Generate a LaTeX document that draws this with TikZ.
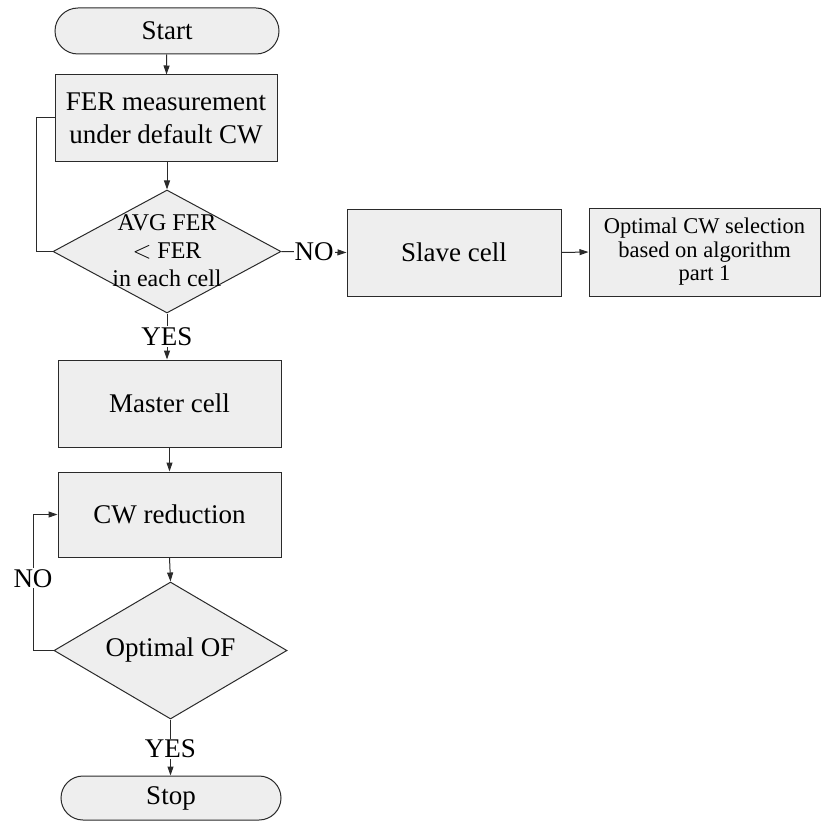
\documentclass[tikz,border=0pt]{standalone}
\usepackage{fontspec}
\setmainfont{Liberation Serif}
\usetikzlibrary{shapes.geometric,shapes.misc,arrows.meta}
\definecolor{boxfill}{HTML}{EEEEEE}
\definecolor{edge}{HTML}{2A2A2A}
\tikzset{
  procbox/.style={draw=edge,fill=boxfill,line width=1pt,rectangle,inner sep=0pt,align=center,
    font=\fontsize{27}{32.4}\selectfont},
  termbox/.style={draw=edge,fill=boxfill,line width=1pt,rounded rectangle,inner sep=0pt,
    font=\fontsize{27}{32.4}\selectfont},
  decbox/.style={draw=edge,fill=boxfill,line width=1pt,diamond,inner sep=0pt},
  dectext/.style={align=center,inner sep=0pt},
  flow/.style={draw=edge,line width=1pt,-{Triangle[length=9pt,width=6pt]}},
  plain/.style={draw=edge,line width=1pt},
  tag/.style={fill=white,inner sep=1pt,font=\fontsize{27}{30}\selectfont}
}
\begin{document}
\begin{tikzpicture}[x=1pt,y=-1pt]
\useasboundingbox (0,0) rectangle (821,821);

% terminals
\node[termbox,minimum width=224pt,minimum height=46pt] (start) at (167,31) {Start};
\node[termbox,minimum width=220pt,minimum height=44pt] (stop) at (171,798) {Stop};

% process boxes
\node[procbox,minimum width=222pt,minimum height=87pt] (fer) at (166,118.5)
  {FER measurement\\under default CW};
\node[procbox,minimum width=214pt,minimum height=87pt] (slave) at (454,252.5) {Slave cell};
\node[procbox,minimum width=231pt,minimum height=88pt,font=\fontsize{22.5}{23.5}\selectfont]
  (optcw) at (704.5,252) {Optimal CW selection\\based on algorithm\\part 1};
\node[procbox,minimum width=223pt,minimum height=87pt] (master) at (169.5,403.5) {Master cell};
\node[procbox,minimum width=223pt,minimum height=85pt] (cwred) at (169.5,514.5) {CW reduction};

% decisions
\node[decbox,minimum width=228pt,minimum height=123pt] (avg) at (167,251.5) {};
\node[dectext,font=\fontsize{24}{28}\selectfont] (avgtext) at (167,251)
  {AVG FER\\$<$ FER\\in each cell};
\node[decbox,minimum width=233pt,minimum height=137pt] (optof) at (170.5,650.5) {};
\node[dectext,font=\fontsize{27}{30}\selectfont] (optoftext) at (170.5,650) {Optimal OF};

% connectors
\draw[flow] (start) -- (fer);
\draw[flow] (fer.south -| avg.north) -- (avg.north);
\draw[plain] (fer.west |- 0,118) -- (36,118) -- (36,251.5) -- (avg.west);
\draw[flow] (avg.east) -- node[tag] (no1) {NO} (slave.west);
\draw[flow] (slave.east) -- (optcw.west);
\draw[flow] (avg.south) -- node[tag,pos=0.5] (yes1) {YES} (avg.south |- master.north);
\draw[flow] (master.south) -- (master.south |- cwred.north);
\draw[flow] (cwred.south) -- (optof.north);
\draw[flow] (optof.west) -- (33,650.5) -- node[tag,pos=0.53] (no2) {NO} (33,514.5) -- (cwred.west);
\draw[flow] (optof.south) -- node[tag,pos=0.52] (yes2) {YES} (optof.south |- stop.north);
\end{tikzpicture}
\end{document}
